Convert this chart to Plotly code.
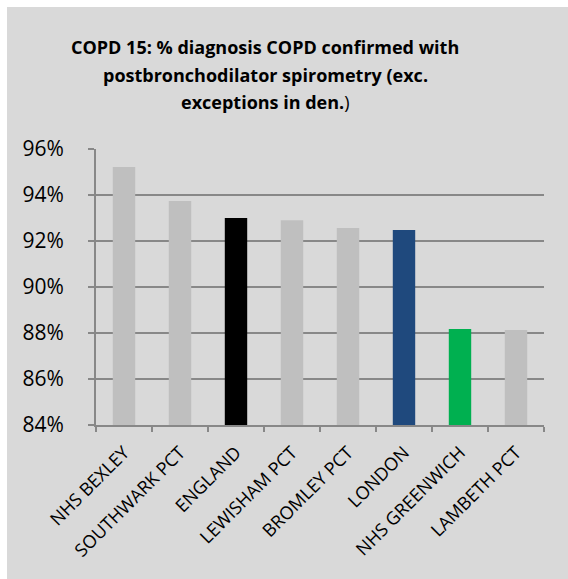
import plotly.graph_objects as go

# COPD 15 indicator by area
areas = ["NHS BEXLEY", "SOUTHWARK PCT", "ENGLAND", "LEWISHAM PCT",
         "BROMLEY PCT", "LONDON", "NHS GREENWICH", "LAMBETH PCT"]
values = [95.22, 93.74, 93.0, 92.9, 92.57, 92.48, 88.17, 88.13]
bar_colors = ["#BFBFBF", "#BFBFBF", "#000000", "#BFBFBF",
              "#BFBFBF", "#1F497D", "#00B050", "#BFBFBF"]
y_ticks = [84, 86, 88, 90, 92, 94, 96]
y_tick_labels = ["84%", "86%", "88%", "90%", "92%", "94%", "96%"]

title_lines = [
    "<b>COPD 15: % diagnosis COPD confirmed with</b>",
    "<b>postbronchodilator spirometry (exc.</b>",
    "<b>exceptions in den.</b>)",
]
title_line_y = [47, 75, 102]   # pixel centre of each title line

W, H = 568, 579
ML, MR, MT, MB = 96, 24, 149, 154
BOX_GRAY = "#D9D9D9"
AXIS_GRAY = "#888888"
FONT = "Open Sans"

fig = go.Figure(go.Bar(
    x=areas, y=values, marker=dict(color=bar_colors, line=dict(width=0)),
    base=0,
))

annotations = [
    dict(text=t, xref="paper", yref="paper",
         x=(265 - ML) / (W - ML - MR), y=1 + (MT - yc) / (H - MT - MB),
         xanchor="center", yanchor="middle", showarrow=False,
         font=dict(family=FONT, size=18, color="black"))
    for t, yc in zip(title_lines, title_line_y)
]

fig.update_layout(
    width=W, height=H,
    margin=dict(l=ML, r=MR, t=MT, b=MB),
    paper_bgcolor="white",
    plot_bgcolor="white",
    bargap=0.6,
    showlegend=False,
    font=dict(family=FONT, color="black"),
    annotations=annotations,
    shapes=[dict(type="rect", xref="paper", yref="paper", layer="below",
                 x0=-(ML - 7) / (W - ML - MR), x1=1 + MR / (W - ML - MR),
                 y0=-MB / (H - MT - MB), y1=1 + (MT - 7) / (H - MT - MB),
                 fillcolor=BOX_GRAY, line=dict(width=0))],
)

fig.update_xaxes(
    type="category", tickangle=-45, tickson="boundaries",
    ticks="outside", ticklen=5, tickcolor=AXIS_GRAY, tickwidth=2,
    showline=True, linecolor=AXIS_GRAY, linewidth=2,
    tickfont=dict(family=FONT, size=18, color="black"),
    ticklabelstandoff=8,
    showgrid=False,
)
fig.update_yaxes(
    range=[84, 96], tickvals=y_ticks, ticktext=y_tick_labels,
    ticks="outside", ticklen=6, tickcolor=AXIS_GRAY, tickwidth=2,
    showline=True, linecolor=AXIS_GRAY, linewidth=2, mirror=False,
    showgrid=True, gridcolor=AXIS_GRAY, gridwidth=2,
    tickfont=dict(family=FONT, size=21, color="black"),
    ticklabelstandoff=20,
    zeroline=False,
)

fig.write_html("out.html")
